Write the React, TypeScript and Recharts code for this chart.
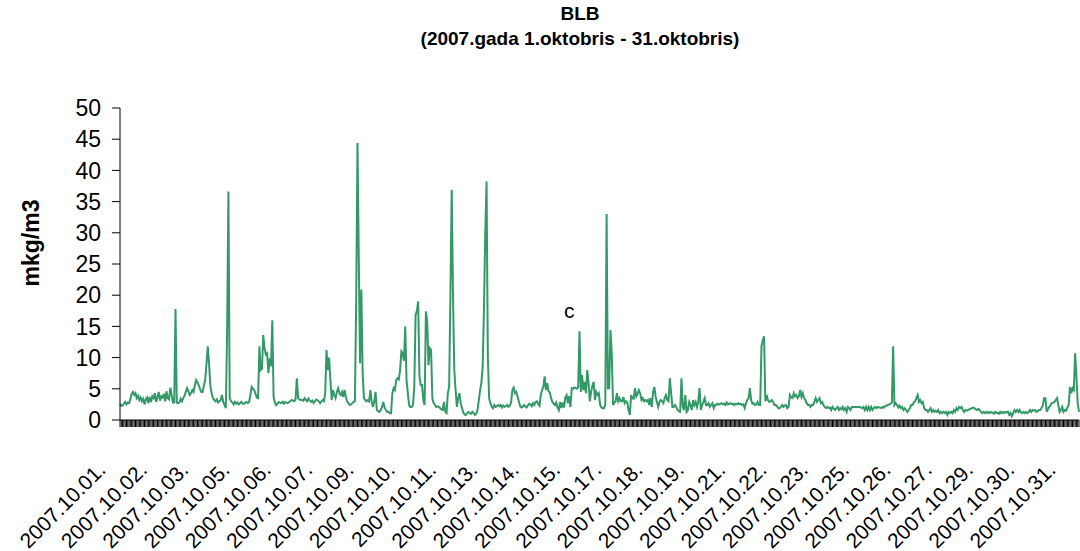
import React from 'react';
import { LineChart, Line, XAxis, YAxis, ReferenceDot } from 'recharts';

const FONT = "Arial, 'Liberation Sans', Helvetica, sans-serif";

const dates = [
  '2007.10.01.', '2007.10.02.', '2007.10.03.', '2007.10.04.', '2007.10.05.', '2007.10.06.',
  '2007.10.07.', '2007.10.08.', '2007.10.09.', '2007.10.10.', '2007.10.11.', '2007.10.12.',
  '2007.10.13.', '2007.10.14.', '2007.10.15.', '2007.10.16.', '2007.10.17.', '2007.10.18.',
  '2007.10.19.', '2007.10.20.', '2007.10.21.', '2007.10.22.', '2007.10.23.', '2007.10.24.',
  '2007.10.25.', '2007.10.26.', '2007.10.27.', '2007.10.28.', '2007.10.29.', '2007.10.30.',
  '2007.10.31.',
];

const yTicks = [0, 5, 10, 15, 20, 25, 30, 35, 40, 45, 50];

// hourly values (mkg/m3), one array per day
const oct01 = [2.6,2.3,2.3,2.6,2.9,2.5,2.8,2.7,3.3,4.2,4.5,4.0,4.3,3.5,3.9,3.2,3.6,3.0,3.4,2.5,3.3,3.6,2.7,3.7];
const oct02 = [2.9,3.8,3.5,4.3,2.9,3.6,4.5,3.1,3.8,3.6,4.2,3.0,4.6,3.5,3.3,5.2,4.0,2.8,2.8,17.8,2.8,2.7,2.8,3.4];
const oct03 = [3.0,3.5,3.9,4.5,5.1,4.6,4.0,4.3,4.8,4.5,5.6,6.4,6.0,5.6,5.0,4.5,4.5,5.5,6.4,9.0,11.8,9.0,5.5,4.3];
const oct04 = [3.5,3.2,3.0,3.3,2.8,3.0,3.2,4.0,2.9,2.4,1.9,14.0,36.6,3.5,3.0,2.8,2.5,2.9,2.6,2.8,2.5,2.7,2.9,2.6];
const oct05 = [2.6,2.8,2.9,2.7,2.9,4.0,5.3,5.0,4.8,4.2,3.6,3.5,11.8,8.0,8.2,13.6,11.5,10.5,10.7,7.5,9.9,8.6,16.0,3.7];
const oct06 = [2.8,2.4,2.6,2.9,2.8,2.7,2.9,2.6,2.9,2.8,2.7,2.9,3.0,3.2,3.1,3.0,3.3,6.7,3.5,3.3,3.2,3.2,3.1,3.5];
const oct07 = [3.2,3.0,3.4,3.1,2.9,3.1,2.7,3.0,3.3,3.2,3.0,2.7,3.0,3.2,3.0,4.3,11.2,8.0,10.0,6.4,3.2,4.8,4.0,3.5];
const oct08 = [4.5,5.1,4.3,4.0,4.5,3.7,4.8,3.7,3.0,2.7,2.4,2.5,2.7,2.9,3.0,19.0,44.4,26.0,9.1,20.9,7.5,3.5,3.2,3.0];
const oct09 = [3.2,3.0,4.8,2.9,2.1,3.0,4.5,1.6,1.4,1.3,1.6,2.1,2.9,2.0,1.6,1.3,1.3,1.1,1.1,4.3,5.1,4.8,6.4,6.7];
const oct10 = [6.5,8.0,11.0,10.7,9.5,15.0,6.4,4.3,2.4,2.1,2.1,2.4,5.3,16.8,17.5,19.0,7.0,5.6,5.6,3.2,2.4,17.4,15.8,8.8];
const oct11 = [11.5,11.2,3.5,2.7,2.4,2.1,2.2,2.1,1.9,1.7,1.6,2.9,1.3,1.1,4.3,5.3,20.0,36.9,20.0,8.0,4.8,2.1,3.5,4.3];
const oct12 = [2.7,1.9,1.2,0.9,0.8,1.1,1.3,1.1,1.0,1.3,1.1,0.8,1.0,1.6,3.2,4.8,6.0,8.6,18.0,30.0,38.2,10.0,3.5,2.7];
const oct13 = [2.1,1.9,2.4,2.1,2.2,2.4,2.2,2.4,2.0,2.3,2.1,2.2,2.4,2.1,2.3,2.8,4.8,5.2,4.3,4.5,3.8,3.0,2.2,2.0];
const oct14 = [2.1,2.4,2.2,2.0,2.3,2.6,2.5,2.2,2.7,2.4,2.9,3.0,2.6,2.3,4.0,4.8,5.3,7.0,4.8,5.9,4.6,4.4,3.5,2.9];
const oct15 = [2.6,2.4,2.8,2.0,1.6,2.9,1.9,2.8,2.0,3.6,4.0,2.7,3.8,2.1,5.1,5.0,5.2,5.1,5.0,5.3,14.2,4.5,7.2,4.8];
const oct16 = [6.1,4.3,8.0,6.0,3.0,4.5,5.5,6.1,3.2,4.5,4.0,4.3,2.4,2.0,1.9,1.9,2.5,33.0,5.1,5.1,14.4,10.7,2.4,2.8];
const oct17 = [3.0,4.3,3.0,3.5,3.0,3.0,3.7,2.7,3.0,2.8,1.6,0.8,4.0,3.5,3.4,5.1,3.8,4.2,4.8,4.3,3.2,3.5,3.0,3.2];
const oct18 = [3.0,3.2,2.4,3.5,2.1,4.5,5.3,3.7,2.9,2.1,2.9,3.2,3.0,2.7,3.5,4.0,3.2,3.0,6.7,4.3,2.1,2.1,2.4,2.1];
const oct19 = [1.6,1.4,1.3,6.7,2.1,1.6,4.0,1.3,1.6,2.9,2.4,1.6,3.2,2.4,2.9,2.1,2.9,5.1,1.6,2.4,2.9,3.5,2.4,2.4];
const oct20 = [2.7,2.1,2.4,2.7,1.9,2.4,2.4,2.6,2.5,2.6,2.7,2.5,2.6,2.4,2.8,2.5,2.6,2.7,2.5,2.6,2.4,2.6,2.5,2.7];
const oct21 = [2.5,2.6,2.4,2.5,1.9,2.7,3.2,3.5,5.1,3.2,2.6,2.7,2.4,2.5,2.9,2.4,2.4,11.8,12.8,13.4,3.0,4.0,3.2,2.9];
const oct22 = [3.0,3.2,2.9,2.4,2.4,2.2,1.9,1.9,2.1,2.4,2.1,2.3,2.4,1.9,2.1,4.0,3.6,3.5,4.3,3.8,4.0,3.5,3.8,4.8];
const oct23 = [3.7,4.3,3.5,3.2,2.7,2.4,2.4,2.1,2.4,2.4,2.9,3.5,2.9,3.2,3.5,2.7,2.9,2.4,2.1,1.9,2.1,1.9,2.0,1.6];
const oct24 = [2.1,1.8,1.6,1.9,2.1,1.6,1.9,1.7,2.1,1.6,1.9,1.3,2.1,1.9,1.6,2.1,2.1,2.1,2.1,2.1,2.1,2.1,2.0,1.9];
const oct25 = [2.1,1.6,2.1,1.6,2.1,1.6,2.1,1.6,1.9,2.1,1.9,2.1,2.0,2.0,1.9,2.1,2.0,2.3,2.3,2.4,2.5,2.6,2.8,11.8];
const oct26 = [2.4,2.7,2.4,2.0,2.3,1.9,2.1,1.6,1.9,1.6,1.3,1.6,1.9,2.4,2.4,2.8,3.0,3.5,4.0,2.9,3.2,2.7,2.9,1.9];
const oct27 = [1.6,1.6,1.3,1.6,1.9,1.3,1.6,1.3,1.5,1.3,1.6,1.1,1.3,1.1,1.3,1.1,1.3,0.8,1.3,1.1,1.3,1.1,1.6,1.3];
const oct28 = [1.9,1.6,2.1,1.9,2.1,1.6,1.3,1.6,1.5,1.6,1.7,1.8,1.9,2.0,1.9,1.7,1.6,1.8,1.6,1.3,1.1,1.3,1.1,1.3];
const oct29 = [1.1,1.3,1.1,1.3,1.2,1.0,1.3,1.1,1.2,1.0,1.3,1.1,1.3,1.1,1.3,1.2,1.3,0.8,1.1,0.6,1.1,1.6,1.3,1.6];
const oct30 = [1.3,1.6,1.2,1.1,1.3,1.1,1.3,1.1,1.3,1.6,1.3,1.6,1.5,1.6,1.3,1.4,1.6,1.6,1.9,2.4,3.5,3.5,1.3,1.8];
const oct31 = [2.1,2.4,2.7,2.8,2.9,3.2,3.5,2.4,1.3,1.6,2.1,1.3,1.6,1.5,2.0,2.4,5.3,4.3,5.1,4.8,10.7,7.0,2.7,1.3];

const days = [
  oct01, oct02, oct03, oct04, oct05, oct06, oct07, oct08, oct09, oct10, oct11,
  oct12, oct13, oct14, oct15, oct16, oct17, oct18, oct19, oct20, oct21, oct22,
  oct23, oct24, oct25, oct26, oct27, oct28, oct29, oct30, oct31,
];

const LABEL_EVERY = 32;

const data = days.flatMap((vals, d) =>
  vals.map((v, h) => ({ t: d * 24 + h, date: dates[d], v }))
);

const annotation = { t: 348, v: 17.6, text: 'c' };

const XTick = (props: any) => {
  const { x, y, payload } = props;
  const i = Number(payload.value);
  if (i % LABEL_EVERY !== 0) return <g />;
  return (
    <g transform={`translate(${x - 13},${y + 42})`}>
      <text
        x={0}
        y={0}
        textAnchor="end"
        transform="rotate(-45)"
        fontSize={21}
        fontFamily={FONT}
        fill="#000"
      >
        {dates[Math.floor(i / 24)]}
      </text>
    </g>
  );
};

export default function App() {
  return (
    <div
      style={{
        position: 'absolute',
        left: 0,
        top: 0,
        width: 1080,
        height: 551,
        background: '#fff',
        fontFamily: FONT,
      }}
    >
      <div
        style={{
          position: 'absolute',
          left: 0,
          width: 1160,
          top: 1,
          textAlign: 'center',
          fontWeight: 'bold',
          fontSize: 19,
          lineHeight: '25px',
          color: '#000',
        }}
      >
        <div>BLB</div>
        <div>(2007.gada 1.oktobris - 31.oktobris)</div>
      </div>
      <div
        style={{
          position: 'absolute',
          left: 31,
          top: 243,
          transform: 'translate(-50%, -50%) rotate(-90deg)',
          fontWeight: 'bold',
          fontSize: 23,
          whiteSpace: 'nowrap',
          color: '#000',
        }}
      >
        mkg/m3
      </div>
      <LineChart
        width={1080}
        height={551}
        data={data}
        margin={{ top: 108, right: 1, bottom: 0, left: 0 }}
        style={{ position: 'absolute', left: 0, top: 0 }}
      >
        <XAxis
          dataKey="t"
          type="category"
          interval={0}
          tick={<XTick />}
          tickSize={7}
          tickLine={{ stroke: '#000', strokeWidth: 1 }}
          axisLine={{ stroke: '#000', strokeWidth: 1 }}
          height={131}
          tickMargin={2}
        />
        <YAxis
          width={120}
          domain={[0, 50]}
          ticks={yTicks}
          interval={0}
          tickSize={8}
          tickMargin={11}
          tick={{ fontSize: 23, fill: '#000', fontFamily: FONT }}
          tickLine={{ stroke: '#000', strokeWidth: 1 }}
          axisLine={{ stroke: '#000', strokeWidth: 1 }}
        />
        <Line
          type="linear"
          dataKey="v"
          stroke="#339966"
          strokeWidth={2}
          dot={false}
          activeDot={false}
          isAnimationActive={false}
        />
        <ReferenceDot
          x={annotation.t}
          y={annotation.v}
          r={0}
          fill="none"
          stroke="none"
          label={{ value: annotation.text, position: 'center', fontSize: 21, fill: '#000', fontFamily: FONT }}
        />
      </LineChart>
    </div>
  );
}
